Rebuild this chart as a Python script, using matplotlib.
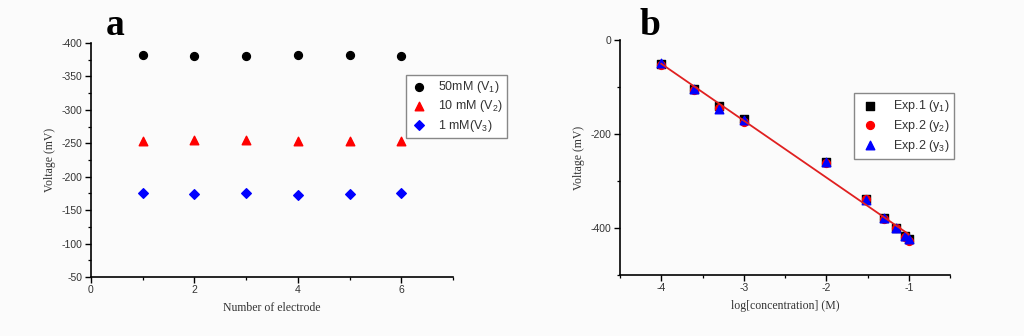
import numpy as np
import matplotlib
matplotlib.use("Agg")
import matplotlib.pyplot as plt
from matplotlib.ticker import MultipleLocator

# ---- Panel a data ----
electrodes = [1, 2, 3, 4, 5, 6]
v1_50mM = [-382, -380, -381, -382, -382, -380]
v2_10mM = [-254, -255, -255, -253, -254, -254]
v3_1mM = [-175, -174, -175, -173, -174, -175]
labels_a = ["50mM (V$_1$)", "10 mM (V$_2$)", "1 mM(V$_3$)"]

# ---- Panel b data ----
log_conc = [-4.0, -3.6, -3.3, -3.0, -2.0, -1.52, -1.3, -1.15, -1.05, -1.0]
exp1_y1 = [-52, -105, -141, -169, -260, -339, -379, -399, -418, -424]
exp2_y2 = [-53, -106, -144, -174, -261, -338, -380, -400, -419, -427]
exp2_y3 = [-48, -104, -146, -171, -259, -341, -378, -401, -417, -423]
labels_b = ["Exp.1 (y$_1$)", "Exp.2 (y$_2$)", "Exp.2 (y$_3$)"]

sans = ["Liberation Sans", "DejaVu Sans"]
serif = ["Liberation Serif", "DejaVu Serif"]
plt.rcParams["font.family"] = sans
plt.rcParams["axes.unicode_minus"] = False
plt.rcParams["mathtext.fontset"] = "custom"
plt.rcParams["mathtext.rm"] = "Liberation Sans"
plt.rcParams["mathtext.it"] = "Liberation Sans:italic"
plt.rcParams["mathtext.bf"] = "Liberation Sans:bold"
bg = "#fbfbfb"

fig = plt.figure(figsize=(10.24, 3.36), dpi=100, facecolor=bg)

def style_axes(ax):
    ax.set_facecolor(bg)
    for s in ["top", "right"]:
        ax.spines[s].set_visible(False)
    for s in ["left", "bottom"]:
        ax.spines[s].set_linewidth(1.2)
    ax.tick_params(which="major", direction="out", length=4, width=1.0, labelsize=7.5,
                   pad=2, labelcolor="#333333")
    ax.tick_params(which="minor", direction="out", length=2.5, width=0.9)

# Panel a
axa = fig.add_axes([91/1024, 59/336, 362/1024, 234/336])
axa.scatter(electrodes, v1_50mM, marker="o", s=32, color="black", label=labels_a[0], zorder=3)
axa.scatter(electrodes, v2_10mM, marker="^", s=38, color="#ff0000", label=labels_a[1], zorder=3)
axa.scatter(electrodes, v3_1mM, marker="D", s=24, color="#0000ff", label=labels_a[2], zorder=3)
axa.set_xlim(0, 7)
axa.set_ylim(-50, -400)
axa.xaxis.set_major_locator(MultipleLocator(2))
axa.xaxis.set_minor_locator(MultipleLocator(1))
axa.yaxis.set_major_locator(MultipleLocator(50))
axa.yaxis.set_minor_locator(MultipleLocator(25))
axa.set_xlabel("Number of electrode", family=serif, fontsize=8.5, color="#333333", labelpad=5)
axa.set_ylabel("Voltage (mV)", family=serif, fontsize=8.5, color="#333333", labelpad=4)
style_axes(axa)
leg_a = axa.legend(loc="upper left", bbox_to_anchor=(406/1024, 1 - 75/336),
                   bbox_transform=fig.transFigure, prop={"family": sans, "size": 9},
                   frameon=True, fancybox=False, edgecolor="#888888", framealpha=1,
                   handletextpad=0.9, borderpad=0.35, labelspacing=0.25, handlelength=1.3,
                   borderaxespad=0)
leg_a.get_frame().set_linewidth(1.0)
for t in leg_a.get_texts():
    t.set_color("#333333")
fig.text(106/1024, 1 - 35/336, "a", family=serif, fontsize=27, fontweight="bold", color="black")

# Panel b
axb = fig.add_axes([620/1024, 61/336, 330/1024, 235/336])
axb.scatter(log_conc, exp1_y1, marker="s", s=28, color="black", label=labels_b[0], zorder=3)
axb.scatter(log_conc, exp2_y2, marker="o", s=32, color="#ff0000", label=labels_b[1], zorder=3)
axb.scatter(log_conc, exp2_y3, marker="^", s=38, color="#0000ff", label=labels_b[2], zorder=4)
allx = np.concatenate([log_conc, log_conc, log_conc])
ally = np.concatenate([exp1_y1, exp2_y2, exp2_y3])
slope, intercept = np.polyfit(allx, ally, 1)
xf = np.array([min(log_conc), max(log_conc)])
axb.plot(xf, slope * xf + intercept, color="#e02020", lw=1.3, zorder=5)
axb.set_xlim(-4.5, -0.5)
axb.set_ylim(-500, 0)
axb.xaxis.set_major_locator(MultipleLocator(1))
axb.xaxis.set_minor_locator(MultipleLocator(0.5))
axb.yaxis.set_major_locator(MultipleLocator(200))
axb.yaxis.set_minor_locator(MultipleLocator(100))
axb.set_xlabel("log[concentration] (M)", family=serif, fontsize=8.5, color="#333333", labelpad=5)
axb.set_ylabel("Voltage (mV)", family=serif, fontsize=8.5, color="#333333", labelpad=4)
style_axes(axb)
leg_b = axb.legend(loc="upper left", bbox_to_anchor=(854/1024, 1 - 93/336),
                   bbox_transform=fig.transFigure, prop={"family": sans, "size": 9},
                   frameon=True, fancybox=False, edgecolor="#888888", framealpha=1,
                   handletextpad=0.9, borderpad=0.4, labelspacing=0.3, handlelength=1.8,
                   borderaxespad=0)
leg_b.get_frame().set_linewidth(1.0)
for t in leg_b.get_texts():
    t.set_color("#333333")
fig.text(640/1024, 1 - 35/336, "b", family=serif, fontsize=27, fontweight="bold", color="black")

fig.savefig("out.png", dpi=100, facecolor=bg)
